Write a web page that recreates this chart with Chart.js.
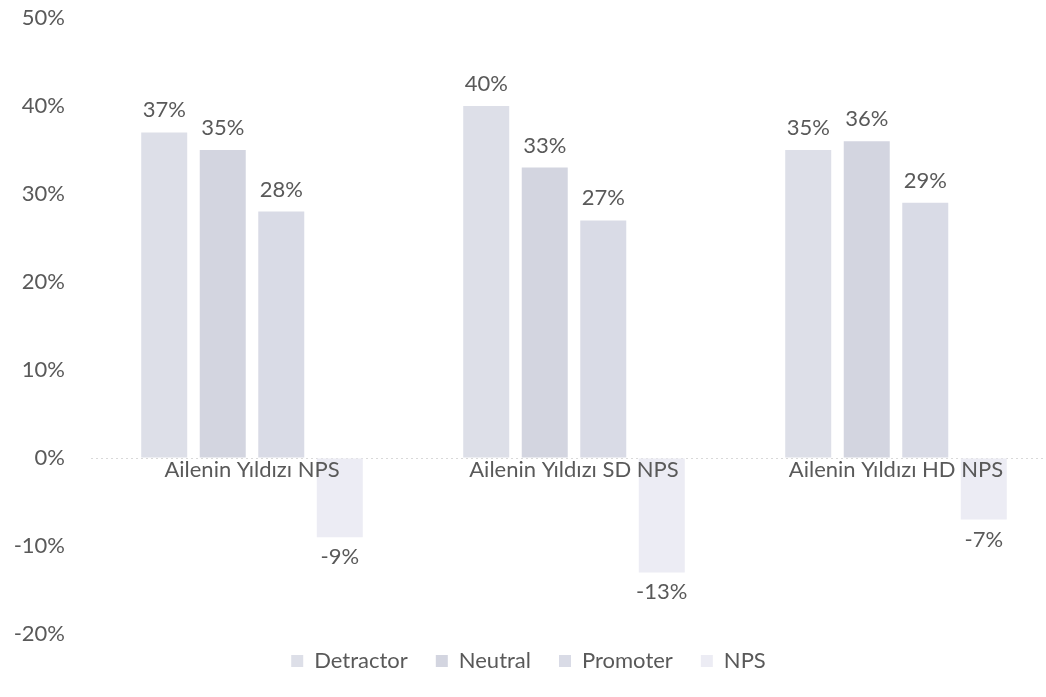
<!DOCTYPE html>
<html>
<head>
<meta charset="utf-8">
<script src="https://cdn.jsdelivr.net/npm/chart.js@4.4.1/dist/chart.umd.min.js"></script>
<style>
  html, body { margin: 0; padding: 0; background: #fff; overflow: hidden; }
  #wrap { position: absolute; left: 0; top: 0; width: 1080px; height: 697px; }
</style>
</head>
<body>
<div id="wrap"><canvas id="npsChart"></canvas></div>
<script>
const categories = ['Ailenin Yıldızı NPS', 'Ailenin Yıldızı SD NPS', 'Ailenin Yıldızı HD NPS'];
const detractor = [37, 40, 35];
const neutral = [35, 33, 36];
const promoter = [28, 27, 29];
const nps = [-9, -13, -7];
const yTicks = [50, 40, 30, 20, 10, 0, -10, -20];

const textColor = '#595959';
const fontFamily = 'Lato, "Noto Sans", sans-serif';

// value labels above / below each bar
const valueLabels = {
    id: 'valueLabels',
    afterDatasetsDraw(chart) {
        const ctx = chart.ctx;
        ctx.save();
        ctx.font = '22px ' + fontFamily;
        ctx.fillStyle = textColor;
        ctx.textAlign = 'center';
        chart.data.datasets.forEach((ds, i) => {
            const meta = chart.getDatasetMeta(i);
            meta.data.forEach((bar, j) => {
                const v = ds.data[j];
                if (v >= 0) {
                    ctx.textBaseline = 'bottom';
                    ctx.fillText(v + '%', bar.x, bar.y - 11);
                } else {
                    ctx.textBaseline = 'top';
                    ctx.fillText(v + '%', bar.x, bar.y + 9);
                }
            });
        });
        ctx.restore();
    }
};

// pull the legend up a bit so the plot can reach further down
const legendNudge = {
    id: 'legendNudge',
    afterLayout(chart) {
        if (chart.legend) {
            chart.legend.top -= 12;
            chart.legend.bottom -= 12;
        }
    }
};

const ctx = document.getElementById('npsChart').getContext('2d');
const npsChart = new Chart(ctx, {
    type: 'bar',
    data: {
        labels: categories,
        datasets: [
            { label: 'Detractor', data: detractor, backgroundColor: '#dddfe8' },
            { label: 'Neutral', data: neutral, backgroundColor: '#d3d5e0' },
            { label: 'Promoter', data: promoter, backgroundColor: '#d9dbe6' },
            { label: 'NPS', data: nps, backgroundColor: '#ececf4' }
        ]
    },
    options: {
        responsive: true,
        maintainAspectRatio: false,
        animation: false,
        layout: { padding: { top: 18, right: 23, left: 0, bottom: 3 } },
        datasets: {
            bar: { categoryPercentage: 0.727, barPercentage: 0.786 }
        },
        plugins: {
            legend: {
                position: 'bottom',
                labels: {
                    color: textColor,
                    font: { family: fontFamily, size: 22 },
                    boxWidth: 12,
                    boxHeight: 12,
                    padding: 28
                }
            },
            tooltip: { enabled: false }
        },
        scales: {
            x: {
                position: { y: 0 },
                grid: { display: false },
                border: { display: false },
                afterFit: axis => {
                    axis.height = 0;
                    axis.paddingLeft = 0;
                    axis.paddingRight = 0;
                    axis.paddingTop = 0;
                    axis.paddingBottom = 0;
                },
                ticks: {
                    z: 1,
                    color: textColor,
                    font: { family: fontFamily, size: 22 },
                    padding: -9,
                    maxRotation: 0
                }
            },
            y: {
                min: -20,
                max: 50,
                afterBuildTicks: axis => { axis.ticks = yTicks.map(v => ({ value: v })); },
                afterFit: axis => {
                    axis.width = 91;
                    axis.paddingTop = 0;
                    axis.paddingBottom = 0;
                },
                border: { display: false, dash: [2, 3] },
                grid: {
                    drawTicks: false,
                    color: c => c.tick && c.tick.value === 0 ? '#d9d9d9' : 'transparent'
                },
                ticks: {
                    color: textColor,
                    font: { family: fontFamily, size: 22 },
                    padding: 26,
                    callback: v => v + '%'
                }
            }
        }
    },
    plugins: [valueLabels, legendNudge]
});
</script>
</body>
</html>
